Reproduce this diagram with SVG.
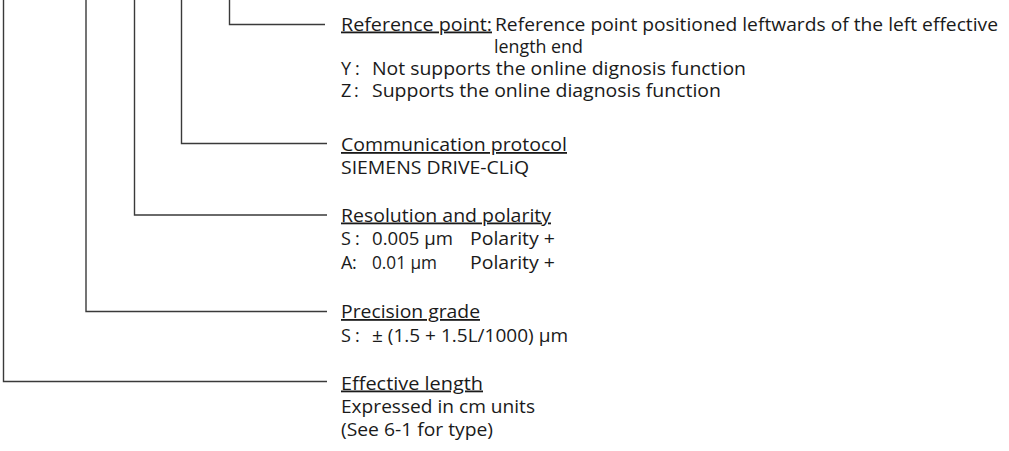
<svg xmlns="http://www.w3.org/2000/svg" width="1009" height="451" viewBox="0 0 1009 451">
<style>
.c{fill:none;stroke:#3a3a3a;stroke-width:1.4}
text{font-family:"Open Sans","Noto Sans",sans-serif;font-size:18px;fill:#1a1a1a}
.u{text-decoration:underline}
</style>
<rect width="1009" height="451" fill="#fff"/>
<g id="connectors">
<path class="c" d="M229.5,0 V24.5 H325"/>
<path class="c" d="M181.5,0 V143.5 H327"/>
<path class="c" d="M134.5,0 V215 H327"/>
<path class="c" d="M86,0 V311.5 H327"/>
<path class="c" d="M3.5,0 V381.5 H327"/>
</g>
<g id="reference-point">
<text class="u" x="341" y="30.5" textLength="151" lengthAdjust="spacingAndGlyphs">Reference point:</text>
<text x="495" y="30.5" textLength="503" lengthAdjust="spacingAndGlyphs">Reference point positioned leftwards of the left effective</text>
<text x="494" y="52.5" textLength="89" lengthAdjust="spacingAndGlyphs">length end</text>
<text x="341" y="74.5">Y</text><text x="355" y="74.5">:</text>
<text x="372" y="74.5" textLength="374" lengthAdjust="spacingAndGlyphs">Not supports the online dignosis function</text>
<text x="341" y="96.5">Z</text><text x="354" y="96.5">:</text>
<text x="372" y="96.5" textLength="349" lengthAdjust="spacingAndGlyphs">Supports the online diagnosis function</text>
</g>
<g id="communication-protocol">
<text class="u" x="341" y="151" textLength="226" lengthAdjust="spacingAndGlyphs">Communication protocol</text>
<text x="341" y="174" textLength="188" lengthAdjust="spacingAndGlyphs">SIEMENS DRIVE-CLiQ</text>
</g>
<g id="resolution-polarity">
<text class="u" x="341" y="221.5" textLength="210" lengthAdjust="spacingAndGlyphs">Resolution and polarity</text>
<text x="341" y="245">S</text><text x="355" y="245">:</text>
<text x="372" y="245" textLength="81" lengthAdjust="spacingAndGlyphs">0.005 µm</text>
<text x="470" y="245" textLength="85" lengthAdjust="spacingAndGlyphs">Polarity +</text>
<text x="341" y="268.5">A</text><text x="352" y="268.5">:</text>
<text x="372" y="268.5" textLength="65" lengthAdjust="spacingAndGlyphs">0.01 µm</text>
<text x="470" y="268.5" textLength="85" lengthAdjust="spacingAndGlyphs">Polarity +</text>
</g>
<g id="precision-grade">
<text class="u" x="341" y="318" textLength="139" lengthAdjust="spacingAndGlyphs">Precision grade</text>
<text x="341" y="341.5">S</text><text x="355" y="341.5">:</text>
<text x="372" y="341.5" textLength="196" lengthAdjust="spacingAndGlyphs">± (1.5 + 1.5L/1000) µm</text>
</g>
<g id="effective-length">
<text class="u" x="341" y="389.5" textLength="142" lengthAdjust="spacingAndGlyphs">Effective length</text>
<text x="341" y="412.5" textLength="194" lengthAdjust="spacingAndGlyphs">Expressed in cm units</text>
<text x="341" y="435.5" textLength="152" lengthAdjust="spacingAndGlyphs">(See 6-1 for type)</text>
</g>
</svg>
